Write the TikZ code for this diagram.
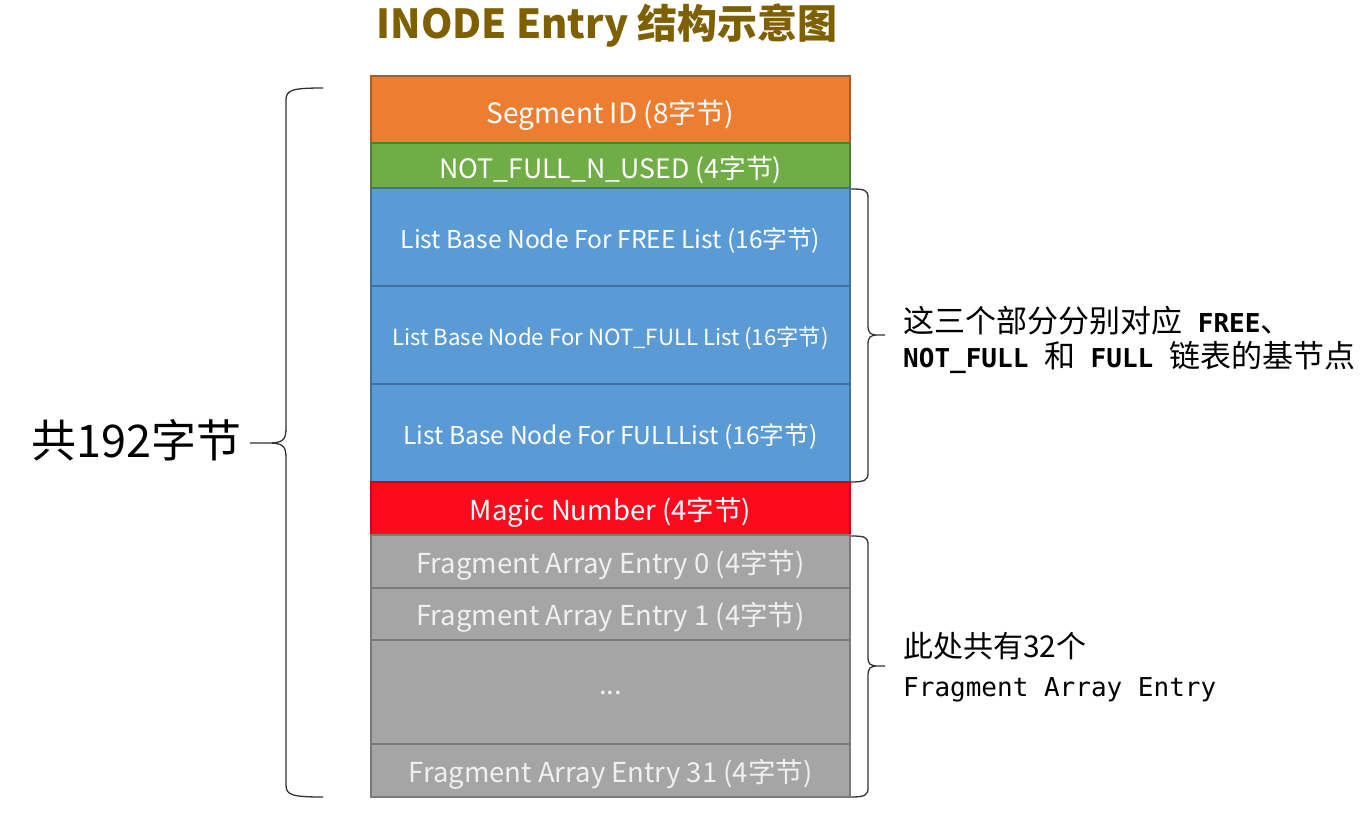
\documentclass[tikz,border=0pt]{standalone}
\usepackage{fontspec}
\setmainfont{Noto Sans CJK SC}
\newfontfamily\monof{DejaVu Sans Mono}
\definecolor{orgF}{HTML}{ED7D31}\definecolor{orgD}{HTML}{AE5A21}
\definecolor{grnF}{HTML}{70AD47}\definecolor{grnD}{HTML}{507E32}
\definecolor{bluF}{HTML}{5B9BD5}\definecolor{bluD}{HTML}{41719C}
\definecolor{redF}{HTML}{FD0A1C}\definecolor{redD}{HTML}{C8081A}
\definecolor{gryF}{HTML}{A5A5A5}\definecolor{gryD}{HTML}{7A7A7A}
\definecolor{ttl}{HTML}{7F6000}
\newcommand{\mono}[1]{{\fontsize{26}{35}\monof #1}}
\tikzset{
  cell/.style={draw, line width=1.5pt, minimum width=479pt, inner sep=0pt},
  gcell/.style={cell, fill=gryF, draw=gryD},
  bcell/.style={cell, fill=bluF, draw=bluD, minimum height=98pt},
  ctext/.style={anchor=base, inner sep=0pt, text=white, font=\fontsize{27.5}{30}\selectfont},
  gtext/.style={ctext, text=white!94!black},
  bracestyle/.style={draw=black!80, line width=1.3pt},
  note/.style={anchor=west, align=left, inner sep=0pt}
}
\begin{document}
\begin{tikzpicture}[x=1pt,y=-1pt]
\useasboundingbox[fill=white] (0,0) rectangle (1369,812);
% title
\node[text=ttl, font=\fontsize{40}{44}\selectfont\bfseries] (title) at (607,25) {INODE Entry 结构示意图};
% cells
\node[cell, fill=orgF, draw=orgD, minimum height=67pt] (seg) at (610.5,109.5) {};
\node[cell, fill=grnF, draw=grnD, minimum height=45pt] (nfu) at (610.5,165.5) {};
\node[bcell] (lfree) at (610.5,237) {};
\node[bcell] (lnot) at (610.5,335) {};
\node[bcell] (lfull) at (610.5,433) {};
\node[cell, fill=redF, draw=redD, minimum height=53pt] (magic) at (610.5,508.5) {};
\node[gcell, minimum height=53pt] (f0) at (610.5,561.5) {};
\node[gcell, minimum height=52pt] (f1) at (610.5,614) {};
\node[gcell, minimum height=104pt] (fdots) at (610.5,692) {};
\node[gcell, minimum height=53pt] (f31) at (610.5,770.5) {};
% cell texts
\path (seg.center) ++(0,13.5) node[ctext, font=\fontsize{28}{30}\selectfont] (segT) {Segment ID (8字节)};
\path (nfu.center) ++(0,12.5) node[ctext, font=\fontsize{26.7}{30}\selectfont] (nfuT) {NOT\_FULL\_N\_USED (4字节)};
\path (lfree.center) ++(0,11) node[ctext, font=\fontsize{24.6}{28}\selectfont] (lfreeT) {List Base Node For FREE List (16字节)};
\path (lnot.center) ++(0,10.5) node[ctext, font=\fontsize{22.2}{26}\selectfont] (lnotT) {List Base Node For NOT\_FULL List (16字节)};
\path (lfull.center) ++(0,11) node[ctext, font=\fontsize{24.6}{28}\selectfont] (lfullT) {List Base Node For FULLList (16字节)};
\path (magic.center) ++(0,11.5) node[ctext] (magicT) {Magic Number (4字节)};
\path (f0.center) ++(0,11.5) node[gtext] (f0T) {Fragment Array Entry 0 (4字节)};
\path (f1.center) ++(0,11.5) node[gtext] (f1T) {Fragment Array Entry 1 (4字节)};
\path (fdots.center) ++(0,2) node[gtext] (fdotsT) {...};
\path (f31.center) ++(0,11.5) node[gtext] (f31T) {Fragment Array Entry 31 (4字节)};
% left brace
\draw[bracestyle] (323,88) .. controls (292,88) and (286,90) .. (286,100)
  -- (286,428) .. controls (286,440) and (283,443) .. (268,443) -- (250,443)
  (268,443) .. controls (283,443) and (286,446) .. (286,458)
  -- (286,785) .. controls (286,795) and (292,797) .. (323,797);
\node[anchor=east, inner sep=0pt, font=\fontsize{45}{48}\selectfont] (total) at (242,440) {共192字节};
% right brace 1
\draw[bracestyle] (851,189) .. controls (865,189) and (868,190) .. (868,198)
  -- (868,325) .. controls (868,333) and (870,335) .. (878,335) -- (885,335)
  (878,335) .. controls (870,335) and (868,337) .. (868,345)
  -- (868,473) .. controls (868,480) and (865,482) .. (851,482);
\node[note, font=\fontsize{31}{35}\selectfont] (n1) at (903,340)
  {这三个部分分别对应\mono{ \bfseries FREE}、\\\mono{\bfseries NOT\_FULL }和\mono{ \bfseries FULL }链表的基节点};
% right brace 2
\draw[bracestyle] (851,536) .. controls (865,536) and (868,537) .. (868,545)
  -- (868,657) .. controls (868,664) and (870,666) .. (878,666) -- (885,666)
  (878,666) .. controls (870,666) and (868,668) .. (868,676)
  -- (868,788) .. controls (868,795) and (865,797) .. (851,797);
\node[note, font=\fontsize{30}{39}\selectfont] (n2) at (903,667) {此处共有32个\\[0pt]\mono{Fragment Array Entry}};
\end{tikzpicture}
\end{document}
